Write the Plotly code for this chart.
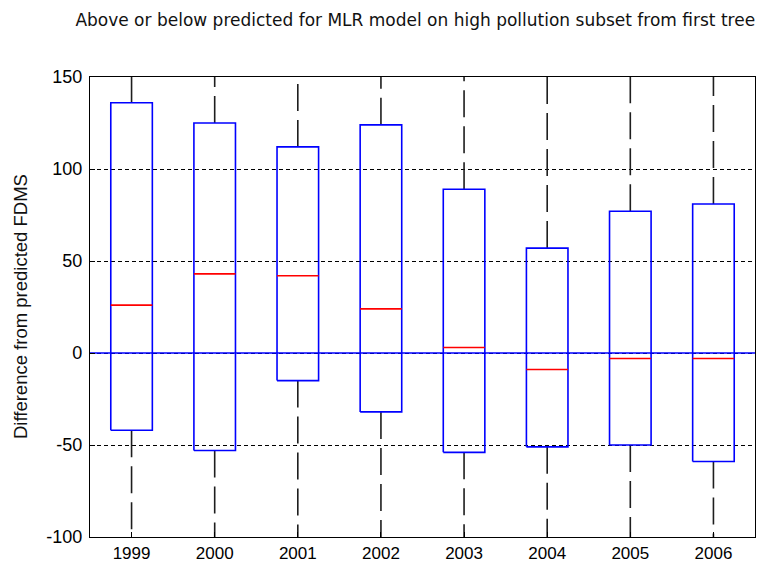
import plotly.graph_objects as go

years = ["1999", "2000", "2001", "2002", "2003", "2004", "2005", "2006"]
q3 = [136, 125, 112, 124, 89, 57, 77, 81]
median = [26, 43, 42, 24, 3, -9, -3, -3]
q1 = [-42, -53, -15, -32, -54, -51, -50, -59]
# whisker ends lie outside the visible y-range (estimated)
upper_whisker = [175, 175, 175, 175, 175, 175, 175, 175]
lower_whisker = [-125, -125, -125, -125, -125, -125, -125, -125]
y_ticks = [-100, -50, 0, 50, 100, 150]
y_tick_labels = ["-100", "-50", "0", "50", "100", "150"]

half = 0.25
fig = go.Figure()

# whiskers
for i in range(len(years)):
    p = i + 1
    fig.add_trace(go.Scatter(x=[p, p], y=[q3[i], upper_whisker[i]], mode="lines",
                             line=dict(color="#1e1e1e", width=1.6, dash="27px,9px"),
                             hoverinfo="skip", showlegend=False))
    fig.add_trace(go.Scatter(x=[p, p], y=[q1[i], lower_whisker[i]], mode="lines",
                             line=dict(color="#1e1e1e", width=1.6, dash="27px,9px"),
                             hoverinfo="skip", showlegend=False))

# boxes
for i in range(len(years)):
    p = i + 1
    fig.add_trace(go.Scatter(x=[p - half, p + half, p + half, p - half, p - half],
                             y=[q1[i], q1[i], q3[i], q3[i], q1[i]], mode="lines",
                             line=dict(color="#0000ff", width=1.6),
                             hoverinfo="skip", showlegend=False))
    fig.add_trace(go.Scatter(x=[p - half, p + half], y=[median[i], median[i]], mode="lines",
                             line=dict(color="#ff0000", width=1.6),
                             hoverinfo="skip", showlegend=False))

# zero reference line
fig.add_trace(go.Scatter(x=[0.5, 8.5], y=[0, 0], mode="lines",
                         line=dict(color="#0000ff", width=1.6),
                         hoverinfo="skip", showlegend=False))

fig.update_layout(
    width=769, height=562,
    margin=dict(l=90, r=14, t=77, b=25),
    paper_bgcolor="white", plot_bgcolor="white",
    font=dict(family="Liberation Sans, Arial, sans-serif", color="black", size=15),
    title=dict(text="Above or below predicted for MLR model on high pollution subset from first tree",
               x=0.54, xanchor="center", y=0.965, yanchor="middle",
               font=dict(family="DejaVu Sans, sans-serif", size=17, color="#111")),
    showlegend=False,
    annotations=[dict(text="Difference from predicted FDMS", textangle=-90,
                      xref="paper", yref="paper", x=-70 / 665, y=0.5,
                      xanchor="center", yanchor="middle", showarrow=False,
                      font=dict(size=18.5, color="#111"))],
)
fig.update_xaxes(range=[0.5, 8.5], tickmode="array", tickvals=list(range(1, len(years) + 1)),
                 ticktext=years, showgrid=False, zeroline=False, showline=True,
                 linecolor="black", linewidth=1.3, mirror=True, ticks="inside",
                 ticklen=5, tickcolor="black", tickfont=dict(size=17),
                 automargin=False, ticklabelstandoff=0)
fig.update_yaxes(range=[-100, 150], tickmode="array", tickvals=y_ticks,
                 ticktext=y_tick_labels,
                 showgrid=True, gridcolor="black", griddash="4px,3px", gridwidth=1.2,
                 zeroline=False, showline=True, linecolor="black", linewidth=1.3,
                 mirror=True, ticks="inside", ticklen=5, tickcolor="black",
                 tickfont=dict(size=18), automargin=False, ticklabelstandoff=3)

fig.write_html("out.html")
